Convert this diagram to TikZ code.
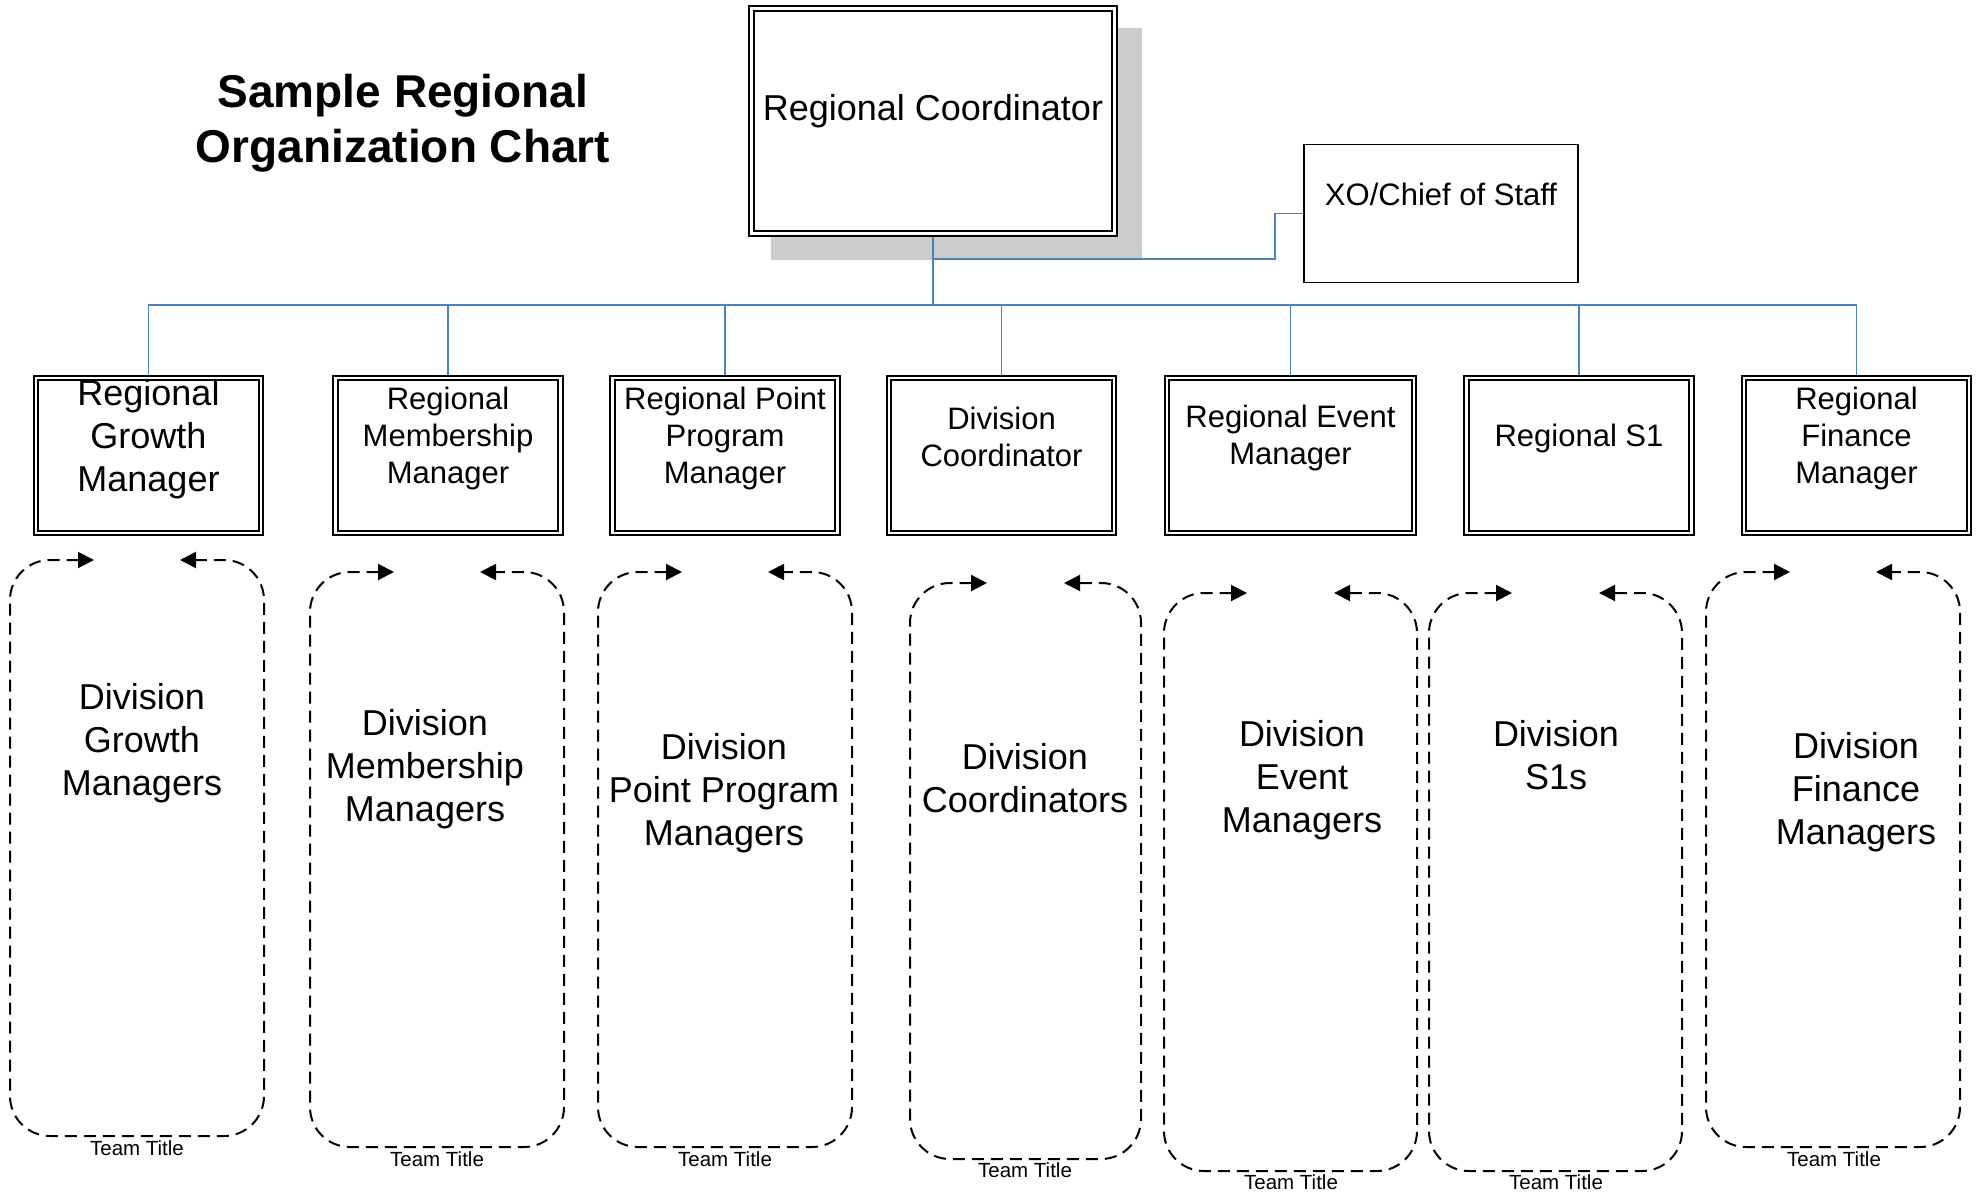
\documentclass[tikz,border=0pt]{standalone}
\usepackage{fontspec}
\setmainfont{Liberation Sans}
\usetikzlibrary{arrows.meta,calc}
\pgfdeclarelayer{background}
\pgfsetlayers{background,main}
\definecolor{connblue}{HTML}{4F81BD}
\definecolor{shadowgray}{HTML}{CCCCCC}
\tikzset{
  dbox/.style={rectangle, draw=black, line width=0.9pt, double=white, double distance=1.4pt, fill=white, inner sep=0pt},
  sbox/.style={rectangle, draw=black, line width=0.8pt, fill=white, inner sep=0pt},
  boxtxt/.style={inner sep=0pt, align=center, font=\fontsize{15.5pt}{18.5pt}\selectfont},
  bigtxt/.style={inner sep=0pt, align=center, font=\fontsize{18pt}{21.5pt}\selectfont},
  titletxt/.style={inner sep=0pt, align=center, font=\fontsize{23pt}{27.5pt}\selectfont\bfseries},
  teamtxt/.style={inner sep=0pt, font=\fontsize{10.25pt}{12pt}\selectfont},
  conn/.style={draw=connblue, line width=0.8pt},
  loopline/.style={draw=black, line width=1pt, dash pattern=on 6pt off 3.5pt, rounded corners=20pt,
    {Triangle[length=8pt,width=8pt]}-{Triangle[length=8pt,width=8pt]}},
  childbox/.style={dbox, minimum width=112.5pt, minimum height=77.5pt},
}
\newcommand{\teamloop}[5]{%
  \draw[loopline] (#1+#5,#3) -- (#1,#3) -- (#1,#4) -- (#2,#4) -- (#2,#3) -- (#2-#5,#3);}
\begin{document}
\begin{tikzpicture}[x=0.5pt,y=-0.5pt]
\useasboundingbox (0,0) rectangle (1979,1193);

% title
\node[titletxt] (title) at (403,123) {Sample Regional\\Organization Chart};

% top boxes
\node[dbox, minimum width=181.5pt, minimum height=112.5pt] (rc) at (933,121) {};
\node[bigtxt] (rct) at (933,111) {Regional Coordinator};
\node[sbox, minimum width=137pt, minimum height=69pt] (xo) at (1441,213.5) {};
\node[boxtxt] (xot) at (1441,194) {XO/Chief of Staff};

% child boxes
\node[childbox] (c1) at (148.5,455.5) {};
\node[childbox] (c2) at (448,455.5) {};
\node[childbox] (c3) at (725,455.5) {};
\node[childbox] (c4) at (1001.5,455.5) {};
\node[childbox, minimum width=123.5pt] (c5) at (1290.5,455.5) {};
\node[childbox] (c6) at (1579,455.5) {};
\node[childbox] (c7) at (1856.5,455.5) {};

\node[bigtxt] (c1t) at (148.5,439) {Regional\\Growth\\Manager};
\node[boxtxt] (c2t) at (448,438.5) {Regional\\Membership\\Manager};
\node[boxtxt] (c3t) at (725,438.5) {Regional Point\\Program\\Manager};
\node[boxtxt] (c4t) at (1001.5,437) {Division\\Coordinator};
\node[boxtxt] (c5t) at (1290.5,438) {Regional Event\\Manager};
\node[boxtxt] (c6t) at (1579,438) {Regional S1};
\node[boxtxt] (c7t) at (1856.5,438.5) {Regional\\Finance\\Manager};

% connectors and shadow behind
\begin{pgfonlayer}{background}
\fill[shadowgray] (771,28) rectangle (1142,260);
\coordinate (bus) at (933,305);
\coordinate (xj) at (933,259);
\coordinate (xk) at (1275,259);
\draw[conn] (xj) -- (xk) |- (xo.west);
\foreach \c in {c1,c2,c3,c4,c5,c6,c7}
  \draw[conn] (rc.south) -- (rc.south |- bus) -| (\c.north);
\end{pgfonlayer}

% team loops
\teamloop{10}{264}{560}{1136}{84}
\teamloop{310}{564}{572}{1147}{84}
\teamloop{598}{852}{572}{1147}{84}
\teamloop{910}{1141}{583}{1159}{77}
\teamloop{1164}{1417}{593}{1171}{83}
\teamloop{1429}{1682}{593}{1171}{83}
\teamloop{1706}{1960}{572}{1147}{84}

\node[bigtxt] (d1) at (142,743) {Division\\Growth\\Managers};
\node[bigtxt] (d2) at (425,769) {Division\\Membership\\Managers};
\node[bigtxt] (d3) at (724,793) {Division\\Point Program\\Managers};
\node[bigtxt] (d4) at (1025,778) {Division\\Coordinators};
\node[bigtxt] (d5) at (1302,780) {Division\\Event\\Managers};
\node[bigtxt] (d6) at (1556,755) {Division\\S1s};
\node[bigtxt] (d7) at (1856,792) {Division\\Finance\\Managers};

\node[teamtxt] (t1) at (137,1148) {Team Title};
\node[teamtxt] (t2) at (437,1159) {Team Title};
\node[teamtxt] (t3) at (725,1159) {Team Title};
\node[teamtxt] (t4) at (1025,1170) {Team Title};
\node[teamtxt] (t5) at (1291,1182) {Team Title};
\node[teamtxt] (t6) at (1556,1182) {Team Title};
\node[teamtxt] (t7) at (1834,1159) {Team Title};
\end{tikzpicture}
\end{document}
